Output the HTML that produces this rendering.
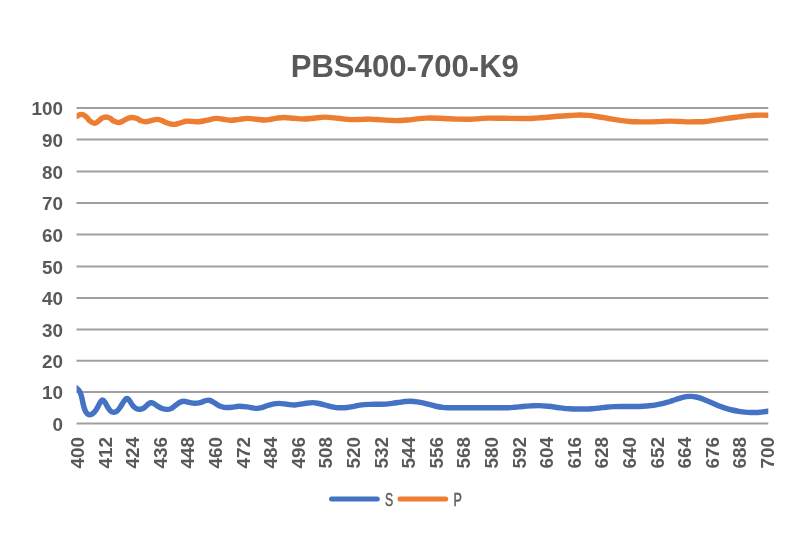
<!DOCTYPE html>
<html><head><meta charset="utf-8">
<style>
html,body{margin:0;padding:0;background:#fff;}
svg{display:block;will-change:transform;}
text{font-family:"Liberation Sans",sans-serif;fill:#595959;}
.b text{font-weight:bold;}
</style></head>
<body>
<svg width="800" height="560" viewBox="0 0 800 560">
<rect width="800" height="560" fill="#ffffff"/>
<g stroke="#a0a0a0" stroke-width="2" fill="none">
<line x1="76.5" x2="768.3" y1="108.00" y2="108.00"/>
<line x1="76.5" x2="768.3" y1="139.50" y2="139.50"/>
<line x1="76.5" x2="768.3" y1="171.50" y2="171.50"/>
<line x1="76.5" x2="768.3" y1="203.00" y2="203.00"/>
<line x1="76.5" x2="768.3" y1="234.50" y2="234.50"/>
<line x1="76.5" x2="768.3" y1="266.50" y2="266.50"/>
<line x1="76.5" x2="768.3" y1="298.00" y2="298.00"/>
<line x1="76.5" x2="768.3" y1="329.50" y2="329.50"/>
<line x1="76.5" x2="768.3" y1="360.80" y2="360.80"/>
<line x1="76.5" x2="768.3" y1="392.00" y2="392.00"/>
<line x1="76.5" x2="768.3" y1="423.60" y2="423.60"/>
</g>
<text id="title" x="404.8" y="77.3" text-anchor="middle" font-weight="bold" font-size="31.5" textLength="228.3" lengthAdjust="spacingAndGlyphs">PBS400-700-K9</text>
<g class="b" id="yl" font-size="17.5">
<text transform="translate(63.1,115.30) scale(1.08,1)" text-anchor="end">100</text>
<text transform="translate(63.1,146.80) scale(1.08,1)" text-anchor="end">90</text>
<text transform="translate(63.1,178.80) scale(1.08,1)" text-anchor="end">80</text>
<text transform="translate(63.1,210.30) scale(1.08,1)" text-anchor="end">70</text>
<text transform="translate(63.1,241.80) scale(1.08,1)" text-anchor="end">60</text>
<text transform="translate(63.1,273.80) scale(1.08,1)" text-anchor="end">50</text>
<text transform="translate(63.1,305.30) scale(1.08,1)" text-anchor="end">40</text>
<text transform="translate(63.1,336.80) scale(1.08,1)" text-anchor="end">30</text>
<text transform="translate(63.1,368.10) scale(1.08,1)" text-anchor="end">20</text>
<text transform="translate(63.1,399.30) scale(1.08,1)" text-anchor="end">10</text>
<text transform="translate(63.1,430.90) scale(1.08,1)" text-anchor="end">0</text>
</g>
<g class="b" id="xl" font-size="17.5">
<text transform="translate(83.90,468.6) rotate(-90) scale(1.08,1)" >400</text>
<text transform="translate(111.50,468.6) rotate(-90) scale(1.08,1)" >412</text>
<text transform="translate(139.10,468.6) rotate(-90) scale(1.08,1)" >424</text>
<text transform="translate(166.70,468.6) rotate(-90) scale(1.08,1)" >436</text>
<text transform="translate(194.30,468.6) rotate(-90) scale(1.08,1)" >448</text>
<text transform="translate(221.90,468.6) rotate(-90) scale(1.08,1)" >460</text>
<text transform="translate(249.50,468.6) rotate(-90) scale(1.08,1)" >472</text>
<text transform="translate(277.10,468.6) rotate(-90) scale(1.08,1)" >484</text>
<text transform="translate(304.70,468.6) rotate(-90) scale(1.08,1)" >496</text>
<text transform="translate(332.30,468.6) rotate(-90) scale(1.08,1)" >508</text>
<text transform="translate(359.90,468.6) rotate(-90) scale(1.08,1)" >520</text>
<text transform="translate(387.50,468.6) rotate(-90) scale(1.08,1)" >532</text>
<text transform="translate(415.10,468.6) rotate(-90) scale(1.08,1)" >544</text>
<text transform="translate(442.70,468.6) rotate(-90) scale(1.08,1)" >556</text>
<text transform="translate(470.30,468.6) rotate(-90) scale(1.08,1)" >568</text>
<text transform="translate(497.90,468.6) rotate(-90) scale(1.08,1)" >580</text>
<text transform="translate(525.50,468.6) rotate(-90) scale(1.08,1)" >592</text>
<text transform="translate(553.10,468.6) rotate(-90) scale(1.08,1)" >604</text>
<text transform="translate(580.70,468.6) rotate(-90) scale(1.08,1)" >616</text>
<text transform="translate(608.30,468.6) rotate(-90) scale(1.08,1)" >628</text>
<text transform="translate(635.90,468.6) rotate(-90) scale(1.08,1)" >640</text>
<text transform="translate(663.50,468.6) rotate(-90) scale(1.08,1)" >652</text>
<text transform="translate(691.10,468.6) rotate(-90) scale(1.08,1)" >664</text>
<text transform="translate(718.70,468.6) rotate(-90) scale(1.08,1)" >676</text>
<text transform="translate(746.30,468.6) rotate(-90) scale(1.08,1)" >688</text>
<text transform="translate(773.90,468.6) rotate(-90) scale(1.08,1)" >700</text>
</g>
<clipPath id="cp"><rect x="76.6" y="90" width="691.7" height="345"/></clipPath>
<g clip-path="url(#cp)">
<path d="M73.00,385.30C73.33,385.57 74.33,386.35 75.00,386.90C75.67,387.45 76.33,387.98 77.00,388.60C77.67,389.22 78.40,389.78 79.00,390.60C79.60,391.42 80.10,392.18 80.60,393.50C81.10,394.82 81.52,396.50 82.00,398.50C82.48,400.50 82.92,403.38 83.50,405.50C84.08,407.62 84.75,409.75 85.50,411.20C86.25,412.65 87.17,413.62 88.00,414.20C88.83,414.78 89.67,414.83 90.50,414.70C91.33,414.57 92.08,414.18 93.00,413.40C93.92,412.62 95.00,411.48 96.00,410.00C97.00,408.52 98.17,405.97 99.00,404.50C99.83,403.03 100.37,401.95 101.00,401.20C101.63,400.45 102.13,399.83 102.80,400.00C103.47,400.17 104.22,401.07 105.00,402.20C105.78,403.33 106.58,405.35 107.50,406.80C108.42,408.25 109.46,409.97 110.50,410.90C111.54,411.83 112.67,412.35 113.75,412.40C114.83,412.45 115.96,412.02 117.00,411.20C118.04,410.38 118.92,409.03 120.00,407.50C121.08,405.97 122.50,403.45 123.50,402.00C124.50,400.55 125.25,399.33 126.00,398.80C126.75,398.27 127.33,398.38 128.00,398.80C128.67,399.22 129.25,400.23 130.00,401.30C130.75,402.37 131.50,404.02 132.50,405.20C133.50,406.38 134.75,407.72 136.00,408.40C137.25,409.08 138.67,409.38 140.00,409.30C141.33,409.22 142.67,408.73 144.00,407.90C145.33,407.07 146.83,405.15 148.00,404.30C149.17,403.45 150.00,402.92 151.00,402.80C152.00,402.68 152.83,403.00 154.00,403.60C155.17,404.20 156.67,405.58 158.00,406.40C159.33,407.22 160.50,408.00 162.00,408.50C163.50,409.00 165.50,409.38 167.00,409.40C168.50,409.42 169.50,409.33 171.00,408.60C172.50,407.87 174.50,406.05 176.00,405.00C177.50,403.95 178.67,402.92 180.00,402.30C181.33,401.68 182.50,401.28 184.00,401.30C185.50,401.32 187.17,402.07 189.00,402.40C190.83,402.73 193.17,403.25 195.00,403.30C196.83,403.35 198.33,403.12 200.00,402.70C201.67,402.28 203.50,401.22 205.00,400.80C206.50,400.38 207.67,400.03 209.00,400.20C210.33,400.37 211.58,401.03 213.00,401.80C214.42,402.57 216.00,403.98 217.50,404.80C219.00,405.62 220.58,406.25 222.00,406.70C223.42,407.15 224.33,407.42 226.00,407.50C227.67,407.58 229.83,407.41 232.00,407.20C234.17,406.99 236.50,406.30 239.00,406.25C241.50,406.20 244.17,406.54 247.00,406.90C249.83,407.26 253.50,408.28 256.00,408.40C258.50,408.52 260.17,408.05 262.00,407.60C263.83,407.15 265.33,406.25 267.00,405.70C268.67,405.15 270.00,404.68 272.00,404.30C274.00,403.92 276.50,403.40 279.00,403.40C281.50,403.40 284.33,404.03 287.00,404.30C289.67,404.57 292.17,405.12 295.00,405.00C297.83,404.88 301.08,404.00 304.00,403.60C306.92,403.20 310.00,402.62 312.50,402.60C315.00,402.58 316.92,403.10 319.00,403.50C321.08,403.90 323.00,404.48 325.00,405.00C327.00,405.52 328.92,406.15 331.00,406.60C333.08,407.05 334.75,407.55 337.50,407.70C340.25,407.85 344.75,407.73 347.50,407.50C350.25,407.27 351.92,406.70 354.00,406.30C356.08,405.90 357.33,405.42 360.00,405.10C362.67,404.78 367.00,404.53 370.00,404.40C373.00,404.27 375.33,404.35 378.00,404.30C380.67,404.25 383.67,404.25 386.00,404.10C388.33,403.95 389.83,403.68 392.00,403.40C394.17,403.12 396.83,402.72 399.00,402.40C401.17,402.08 403.00,401.69 405.00,401.50C407.00,401.31 409.00,401.20 411.00,401.25C413.00,401.30 414.83,401.49 417.00,401.80C419.17,402.11 421.83,402.62 424.00,403.10C426.17,403.58 428.00,404.18 430.00,404.70C432.00,405.22 434.00,405.82 436.00,406.25C438.00,406.68 440.08,407.05 442.00,407.30C443.92,407.55 444.83,407.68 447.50,407.75C450.17,407.82 454.25,407.71 458.00,407.70C461.75,407.69 464.67,407.69 470.00,407.70C475.33,407.71 483.75,407.75 490.00,407.75C496.25,407.75 503.33,407.79 507.50,407.70C511.67,407.61 512.50,407.40 515.00,407.20C517.50,407.00 519.83,406.72 522.50,406.50C525.17,406.28 528.25,406.05 531.00,405.90C533.75,405.75 536.17,405.53 539.00,405.60C541.83,405.67 544.92,405.98 548.00,406.30C551.08,406.62 554.83,407.15 557.50,407.50C560.17,407.85 561.92,408.18 564.00,408.40C566.08,408.62 567.83,408.70 570.00,408.80C572.17,408.90 574.50,408.97 577.00,409.00C579.50,409.03 582.50,409.05 585.00,409.00C587.50,408.95 589.67,408.85 592.00,408.70C594.33,408.55 596.67,408.35 599.00,408.10C601.33,407.85 603.50,407.45 606.00,407.20C608.50,406.95 611.00,406.72 614.00,406.60C617.00,406.48 620.50,406.52 624.00,406.50C627.50,406.48 631.83,406.55 635.00,406.50C638.17,406.45 640.33,406.37 643.00,406.20C645.67,406.03 648.83,405.73 651.00,405.50C653.17,405.27 654.33,405.08 656.00,404.80C657.67,404.52 659.33,404.17 661.00,403.80C662.67,403.43 664.50,402.98 666.00,402.60C667.50,402.22 668.50,401.98 670.00,401.50C671.50,401.02 673.17,400.32 675.00,399.70C676.83,399.08 679.17,398.30 681.00,397.80C682.83,397.30 684.33,396.93 686.00,396.70C687.67,396.47 689.33,396.35 691.00,396.40C692.67,396.45 694.33,396.67 696.00,397.00C697.67,397.33 699.17,397.77 701.00,398.40C702.83,399.03 704.83,399.92 707.00,400.80C709.17,401.68 711.83,402.80 714.00,403.70C716.17,404.60 718.00,405.43 720.00,406.20C722.00,406.97 724.00,407.67 726.00,408.30C728.00,408.93 729.83,409.50 732.00,410.00C734.17,410.50 736.83,410.95 739.00,411.30C741.17,411.65 743.00,411.90 745.00,412.10C747.00,412.30 749.17,412.43 751.00,412.50C752.83,412.57 754.50,412.55 756.00,412.50C757.50,412.45 758.67,412.33 760.00,412.20C761.33,412.07 762.67,411.87 764.00,411.70C765.33,411.53 766.67,411.37 768.00,411.20C769.33,411.03 771.33,410.78 772.00,410.70" fill="none" stroke="#4472c4" stroke-width="5.4" stroke-linejoin="round" stroke-linecap="butt"/>
<path d="M73.00,117.60C73.33,117.48 74.33,117.13 75.00,116.90C75.67,116.67 76.33,116.52 77.00,116.20C77.67,115.88 78.17,115.30 79.00,115.00C79.83,114.70 80.83,114.13 82.00,114.40C83.17,114.67 84.67,115.50 86.00,116.60C87.33,117.70 88.60,119.87 90.00,121.00C91.40,122.13 93.07,123.30 94.40,123.40C95.73,123.50 96.73,122.47 98.00,121.60C99.27,120.73 100.67,118.97 102.00,118.20C103.33,117.43 104.67,117.00 106.00,117.00C107.33,117.00 108.67,117.50 110.00,118.20C111.33,118.90 112.54,120.47 114.00,121.20C115.46,121.93 117.25,122.63 118.75,122.60C120.25,122.57 121.46,121.73 123.00,121.00C124.54,120.27 126.42,118.78 128.00,118.20C129.58,117.62 131.00,117.43 132.50,117.50C134.00,117.57 135.58,118.05 137.00,118.60C138.42,119.15 139.50,120.27 141.00,120.80C142.50,121.33 144.33,121.83 146.00,121.80C147.67,121.77 149.08,121.00 151.00,120.60C152.92,120.20 155.67,119.40 157.50,119.40C159.33,119.40 160.58,120.07 162.00,120.60C163.42,121.13 164.67,122.05 166.00,122.60C167.33,123.15 168.67,123.60 170.00,123.90C171.33,124.20 172.50,124.50 174.00,124.40C175.50,124.30 177.00,123.83 179.00,123.30C181.00,122.77 183.83,121.57 186.00,121.25C188.17,120.93 189.83,121.33 192.00,121.40C194.17,121.48 196.50,121.90 199.00,121.70C201.50,121.50 204.17,120.75 207.00,120.20C209.83,119.65 213.33,118.57 216.00,118.40C218.67,118.23 220.50,118.89 223.00,119.20C225.50,119.51 228.33,120.22 231.00,120.25C233.67,120.28 236.25,119.71 239.00,119.40C241.75,119.09 244.67,118.43 247.50,118.40C250.33,118.37 253.08,118.93 256.00,119.20C258.92,119.47 262.67,119.95 265.00,120.00C267.33,120.05 268.00,119.80 270.00,119.50C272.00,119.20 274.67,118.53 277.00,118.20C279.33,117.87 281.17,117.48 284.00,117.50C286.83,117.52 290.67,118.05 294.00,118.30C297.33,118.55 300.67,119.02 304.00,119.00C307.33,118.98 310.50,118.52 314.00,118.20C317.50,117.88 321.00,117.08 325.00,117.10C329.00,117.12 333.67,117.88 338.00,118.30C342.33,118.72 347.00,119.42 351.00,119.60C355.00,119.78 358.83,119.48 362.00,119.40C365.17,119.32 366.67,119.02 370.00,119.10C373.33,119.18 377.83,119.65 382.00,119.90C386.17,120.15 390.75,120.58 395.00,120.60C399.25,120.62 403.83,120.28 407.50,120.00C411.17,119.72 413.92,119.22 417.00,118.90C420.08,118.58 422.33,118.22 426.00,118.10C429.67,117.98 435.33,118.10 439.00,118.20C442.67,118.30 444.92,118.55 448.00,118.70C451.08,118.85 453.83,119.00 457.50,119.10C461.17,119.20 466.25,119.38 470.00,119.30C473.75,119.22 476.83,118.80 480.00,118.60C483.17,118.40 484.83,118.15 489.00,118.10C493.17,118.05 498.83,118.23 505.00,118.30C511.17,118.37 520.83,118.53 526.00,118.50C531.17,118.47 532.83,118.27 536.00,118.10C539.17,117.93 541.33,117.80 545.00,117.50C548.67,117.20 553.83,116.63 558.00,116.30C562.17,115.97 566.33,115.72 570.00,115.50C573.67,115.28 577.00,115.02 580.00,115.00C583.00,114.98 585.50,115.19 588.00,115.40C590.50,115.61 592.33,115.87 595.00,116.25C597.67,116.63 600.83,117.17 604.00,117.70C607.17,118.23 611.00,118.92 614.00,119.40C617.00,119.88 619.33,120.25 622.00,120.60C624.67,120.95 627.33,121.30 630.00,121.50C632.67,121.70 635.50,121.73 638.00,121.80C640.50,121.87 641.67,121.93 645.00,121.90C648.33,121.87 653.83,121.73 658.00,121.60C662.17,121.47 666.33,121.12 670.00,121.10C673.67,121.08 676.83,121.37 680.00,121.50C683.17,121.63 686.17,121.85 689.00,121.90C691.83,121.95 694.33,121.87 697.00,121.80C699.67,121.73 702.50,121.70 705.00,121.50C707.50,121.30 709.50,120.95 712.00,120.60C714.50,120.25 717.00,119.83 720.00,119.40C723.00,118.97 726.83,118.42 730.00,118.00C733.17,117.58 736.17,117.25 739.00,116.90C741.83,116.55 744.33,116.18 747.00,115.90C749.67,115.62 752.50,115.38 755.00,115.25C757.50,115.12 759.83,115.09 762.00,115.10C764.17,115.11 766.33,115.23 768.00,115.30C769.67,115.37 771.33,115.47 772.00,115.50" fill="none" stroke="#ed7d31" stroke-width="5.4" stroke-linejoin="round" stroke-linecap="butt"/>
</g>
<line x1="331.5" x2="377.3" y1="499" y2="499" stroke="#4472c4" stroke-width="5" stroke-linecap="round"/>
<line x1="400" x2="445.7" y1="499" y2="499" stroke="#ed7d31" stroke-width="5" stroke-linecap="round"/>
<text id="ls" stroke="#595959" stroke-width="0.45" x="385" y="505.5" font-size="17.5" textLength="8.2" lengthAdjust="spacingAndGlyphs">S</text>
<text id="lp" stroke="#595959" stroke-width="0.45" x="453.4" y="505.5" font-size="17.5" textLength="8.4" lengthAdjust="spacingAndGlyphs">P</text>
</svg>
</body></html>
